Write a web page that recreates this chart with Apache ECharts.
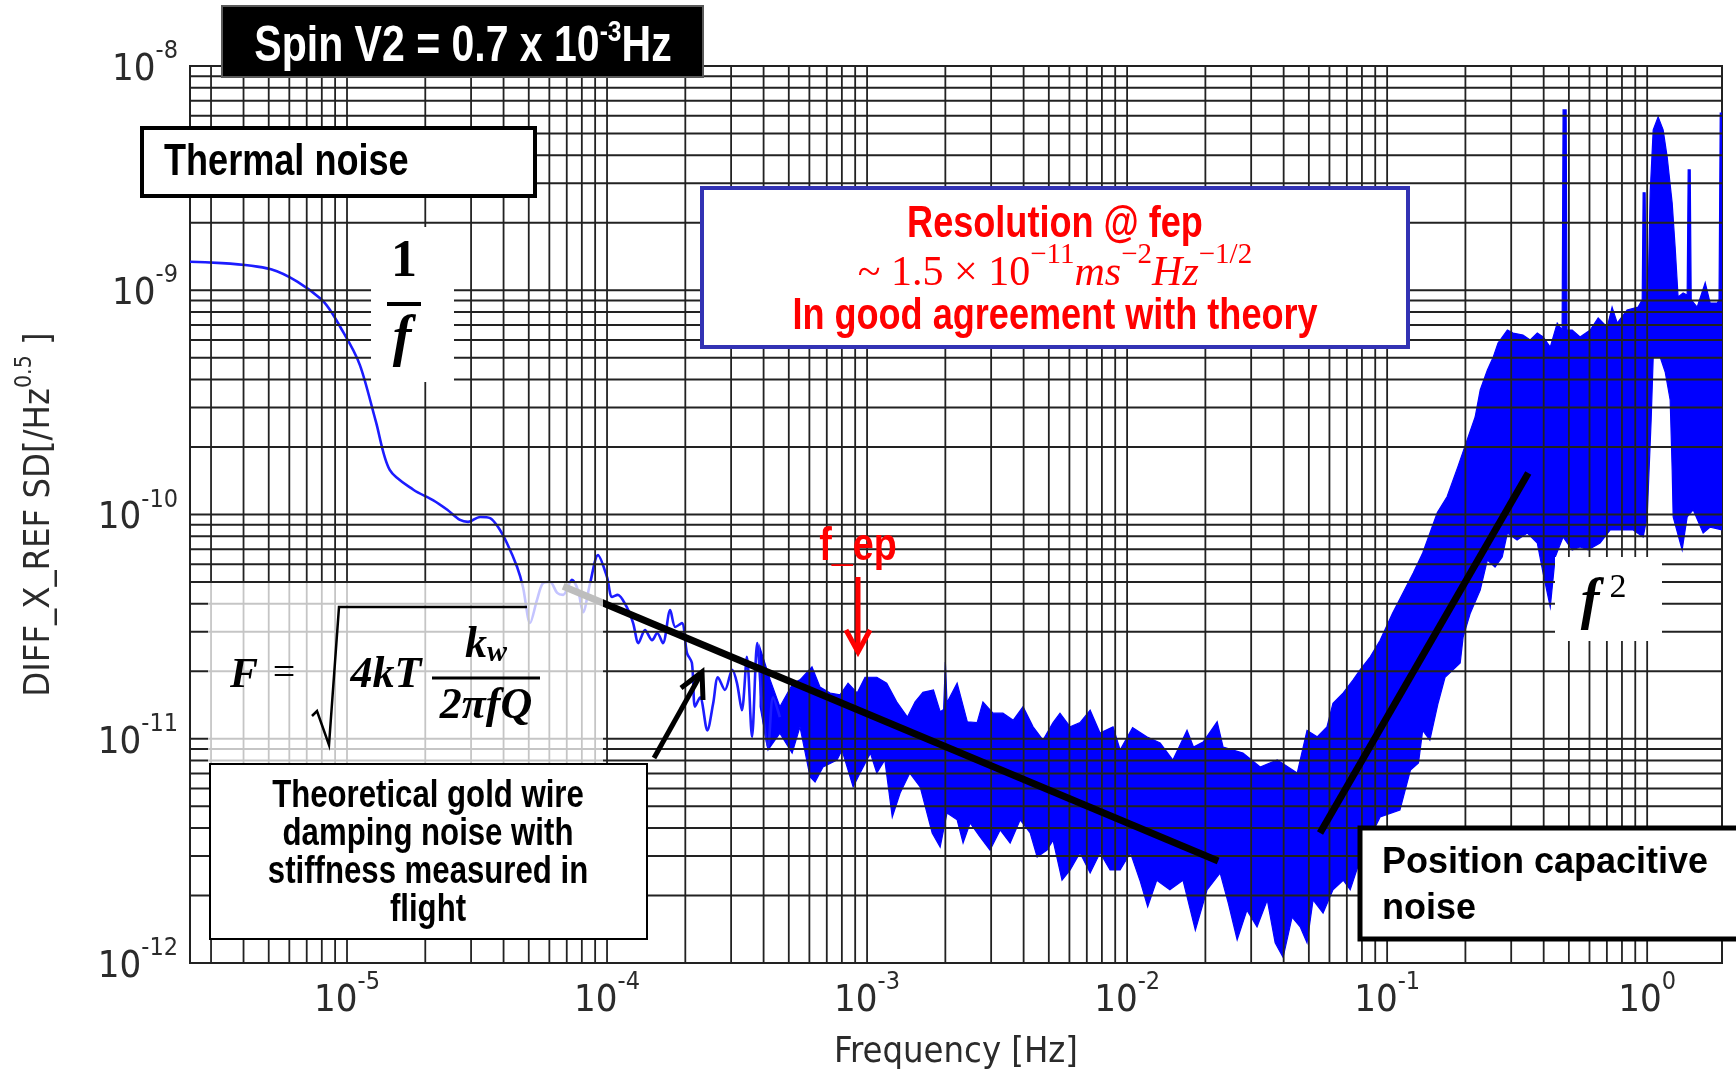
<!DOCTYPE html>
<html>
<head>
<meta charset="utf-8">
<script src="https://cdn.jsdelivr.net/npm/echarts@6/dist/echarts.min.js"></script>
<style>
  html, body { margin: 0; padding: 0; background: #ffffff; }
  #chart { width: 1736px; height: 1071px; }
</style>
</head>
<body>
<div id="chart"></div>
<script>
// ---- axis decades (tick labels are drawn as 10^n) ----
const freqDecades = [-5, -4, -3, -2, -1, 0];
const psdDecades = [-12, -11, -10, -9, -8];
const freqMin = 2.49e-6, freqMax = 1.94;
const psdMin = 1e-12, psdMax = 1e-8;

// ---- low-frequency part of the spectrum (thin trace) ----
const lowFreq = [2.49e-6, 5.10e-6, 7.94e-6, 9.66e-6, 1.12e-5, 1.29e-5, 1.46e-5, 1.80e-5, 2.14e-5, 2.43e-5,
  2.72e-5, 2.92e-5, 3.25e-5, 3.55e-5, 3.81e-5, 4.12e-5, 4.51e-5, 4.75e-5, 5.06e-5, 5.38e-5,
  5.68e-5, 6.04e-5, 6.43e-5, 6.78e-5, 7.33e-5, 7.73e-5, 8.09e-5, 8.61e-5, 9.23e-5, 1.00e-4,
  1.045e-4, 1.10e-4, 1.19e-4, 1.26e-4, 1.32e-4, 1.40e-4, 1.49e-4, 1.56e-4, 1.64e-4, 1.75e-4,
  1.83e-4, 1.94e-4, 2.03e-4, 2.12e-4, 2.18e-4, 2.28e-4, 2.43e-4, 2.56e-4, 2.67e-4, 2.84e-4,
  3.03e-4, 3.16e-4, 3.30e-4, 3.45e-4, 3.61e-4, 3.78e-4, 3.94e-4, 4.16e-4, 4.35e-4, 4.62e-4];
const lowPsd = [1.34e-9, 1.24e-9, 9.14e-10, 6.52e-10, 4.65e-10, 2.61e-10, 1.58e-10, 1.29e-10, 1.16e-10, 1.05e-10,
  9.46e-11, 9.27e-11, 9.75e-11, 9.64e-11, 8.79e-11, 7.46e-11, 5.83e-11, 4.75e-11, 3.28e-11, 4.16e-11,
  4.95e-11, 5.00e-11, 4.47e-11, 4.38e-11, 5.11e-11, 4.60e-11, 3.67e-11, 4.95e-11, 6.59e-11, 5.26e-11,
  4.29e-11, 4.38e-11, 3.87e-11, 3.28e-11, 2.67e-11, 3.05e-11, 2.75e-11, 2.96e-11, 2.67e-11, 3.75e-11,
  3.15e-11, 3.28e-11, 2.41e-11, 2.18e-11, 1.39e-11, 1.53e-11, 1.09e-11, 1.44e-11, 1.88e-11, 1.65e-11,
  2.03e-11, 1.77e-11, 1.34e-11, 2.32e-11, 1.02e-11, 2.67e-11, 1.44e-11, 9.18e-12, 1.53e-11, 1.25e-11];

// ---- dense part of the spectrum: upper envelope ----
const bandTopFreq = [3.87e-4, 4.24e-4, 4.62e-4, 5.19e-4, 5.52e-4, 6.14e-4, 6.59e-4, 7.21e-4, 7.87e-4, 8.45e-4,
  9.16e-4, 9.82e-4, 1.09e-3, 1.19e-3, 1.30e-3, 1.43e-3, 1.53e-3, 1.64e-3, 1.80e-3, 1.91e-3,
  1.97e-3, 2.00e-3, 2.03e-3, 2.22e-3, 2.43e-3, 2.65e-3, 2.79e-3, 3.05e-3, 3.33e-3, 3.65e-3,
  3.98e-3, 4.35e-3, 4.75e-3, 5.19e-3, 5.52e-3, 6.04e-3, 6.59e-3, 7.21e-3, 7.87e-3, 8.83e-3,
  9.40e-3, 1.05e-2, 1.19e-2, 1.34e-2, 1.50e-2, 1.70e-2, 1.80e-2, 1.96e-2, 2.22e-2, 2.34e-2,
  2.79e-2, 3.25e-2, 3.78e-2, 4.51e-2, 4.92e-2, 5.38e-2, 5.87e-2, 6.19e-2, 6.78e-2, 7.40e-2,
  7.87e-2, 8.61e-2, 9.40e-2, 0.105, 0.126, 0.137, 0.156, 0.170, 0.187, 0.205,
  0.218, 0.228, 0.243, 0.256, 0.267, 0.290, 0.305, 0.333, 0.355, 0.378,
  0.398, 0.424, 0.451, 0.471, 0.475, 0.488, 0.492, 0.515, 0.552, 0.604,
  0.648, 0.702, 0.733, 0.767, 0.837, 0.923, 0.957, 0.965, 0.982, 0.991,
  1.009, 1.027, 1.055, 1.102, 1.152, 1.194, 1.248, 1.281, 1.315, 1.375,
  1.425, 1.438, 1.464, 1.477, 1.557, 1.672, 1.747, 1.86, 1.89, 1.91, 1.94];
const bandTopPsd = [2.56e-11, 1.83e-11, 1.39e-11, 1.77e-11, 1.83e-11, 2.09e-11, 1.70e-11, 1.60e-11, 1.57e-11, 1.77e-11,
  1.60e-11, 1.88e-11, 1.88e-11, 1.77e-11, 1.46e-11, 1.25e-11, 1.46e-11, 1.61e-11, 1.65e-11, 1.32e-11,
  1.35e-11, 2.20e-11, 1.45e-11, 1.77e-11, 1.19e-11, 1.18e-11, 1.46e-11, 1.30e-11, 1.30e-11, 1.21e-11,
  1.39e-11, 1.13e-11, 9.86e-12, 1.18e-11, 1.30e-11, 1.13e-11, 1.18e-11, 1.34e-11, 1.06e-11, 1.13e-11,
  8.91e-12, 1.12e-11, 1.02e-11, 9.57e-12, 8.04e-12, 1.09e-11, 9.18e-12, 9.66e-12, 1.19e-11, 9.18e-12,
  8.63e-12, 7.48e-12, 8.04e-12, 7.03e-12, 1.09e-11, 1.02e-11, 1.13e-11, 1.44e-11, 1.60e-11, 1.83e-11,
  2.03e-11, 2.32e-11, 2.75e-11, 3.64e-11, 5.48e-11, 6.73e-11, 1.02e-10, 1.20e-10, 1.63e-10, 2.22e-10,
  2.72e-10, 3.59e-10, 4.41e-10, 5.04e-10, 5.82e-10, 6.65e-10, 6.44e-10, 6.31e-10, 6.00e-10, 6.44e-10,
  6.19e-10, 5.58e-10, 7.14e-10, 6.65e-10, 6.37e-9, 6.37e-9, 6.65e-10, 6.65e-10, 6.19e-10, 6.65e-10,
  7.52e-10, 6.85e-10, 8.41e-10, 7.14e-10, 8.17e-10, 8.41e-10, 9.06e-10, 2.72e-9, 2.72e-9, 9.53e-10,
  1.00e-9, 2.72e-9, 5.19e-9, 5.93e-9, 5.19e-9, 3.93e-9, 2.45e-9, 1.56e-9, 9.33e-10, 9.72e-10,
  9.53e-10, 3.44e-9, 3.44e-9, 9.06e-10, 8.41e-10, 1.08e-9, 8.77e-10, 8.77e-10, 9.06e-10, 6.17e-9, 6.17e-9];

// ---- dense part of the spectrum: lower envelope ----
const bandLowFreq = [3.88e-4, 4.16e-4, 4.62e-4, 5.15e-4, 5.52e-4, 6.04e-4, 6.31e-4, 6.77e-4, 7.66e-4, 8.01e-4,
  8.84e-4, 9.40e-4, 1.03e-3, 1.09e-3, 1.17e-3, 1.25e-3, 1.34e-3, 1.46e-3, 1.60e-3, 1.78e-3,
  1.91e-3, 2.03e-3, 2.22e-3, 2.34e-3, 2.49e-3, 2.72e-3, 2.97e-3, 3.25e-3, 3.55e-3, 3.88e-3,
  4.24e-3, 4.51e-3, 4.92e-3, 5.19e-3, 5.62e-3, 6.04e-3, 6.59e-3, 7.21e-3, 7.87e-3, 8.60e-3,
  9.40e-3, 1.03e-2, 1.12e-2, 1.20e-2, 1.30e-2, 1.46e-2, 1.64e-2, 1.83e-2, 2.03e-2, 2.28e-2,
  2.45e-2, 2.65e-2, 2.89e-2, 3.16e-2, 3.46e-2, 3.71e-2, 3.98e-2, 4.31e-2, 4.63e-2, 4.92e-2,
  5.19e-2, 5.67e-2, 6.19e-2, 6.78e-2, 7.21e-2, 7.87e-2, 8.61e-2, 9.40e-2, 0.112, 0.123,
  0.132, 0.137, 0.146, 0.157, 0.167, 0.191, 0.196, 0.209, 0.228, 0.243,
  0.260, 0.277, 0.290, 0.316, 0.346, 0.378, 0.398, 0.424, 0.443, 0.475,
  0.515, 0.552, 0.593, 0.659, 0.721, 0.787, 0.884, 0.965, 1.0, 1.036,
  1.055, 1.122, 1.173, 1.226, 1.248, 1.259, 1.363, 1.425, 1.503, 1.642, 1.747, 1.94];
const bandLowPsd = [1.39e-11, 8.91e-12, 1.06e-11, 8.63e-12, 1.13e-11, 6.75e-12, 6.41e-12, 7.48e-12, 8.04e-12, 8.91e-12,
  6.10e-12, 7.03e-12, 8.63e-12, 7.03e-12, 8.04e-12, 4.48e-12, 5.73e-12, 7.03e-12, 6.10e-12, 3.80e-12,
  3.29e-12, 4.67e-12, 4.35e-12, 3.43e-12, 4.21e-12, 3.65e-12, 3.19e-12, 3.92e-12, 3.43e-12, 4.35e-12,
  3.80e-12, 2.97e-12, 3.19e-12, 3.53e-12, 2.34e-12, 2.60e-12, 3.10e-12, 2.52e-12, 3.10e-12, 2.60e-12,
  2.60e-12, 3.10e-12, 2.34e-12, 1.78e-12, 2.34e-12, 2.12e-12, 2.34e-12, 1.40e-12, 2.12e-12, 2.52e-12,
  1.85e-12, 1.27e-12, 1.72e-12, 1.45e-12, 1.91e-12, 1.23e-12, 1.06e-12, 1.60e-12, 1.45e-12, 1.23e-12,
  1.91e-12, 1.67e-12, 2.12e-12, 2.34e-12, 2.12e-12, 2.88e-12, 3.65e-12, 4.48e-12, 4.81e-12, 7.26e-12,
  7.80e-12, 1.09e-11, 9.86e-12, 1.44e-11, 1.88e-11, 2.18e-11, 2.84e-11, 3.64e-11, 4.60e-11, 6.27e-11,
  5.83e-11, 6.46e-11, 8.26e-11, 7.69e-11, 8.26e-11, 7.46e-11, 5.48e-11, 3.87e-11, 6.46e-11, 7.94e-11,
  6.95e-11, 7.16e-11, 6.95e-11, 7.46e-11, 8.53e-11, 8.53e-11, 8.53e-11, 7.94e-11, 9.75e-11, 2.64e-10,
  5.04e-10, 5.04e-10, 4.32e-10, 3.24e-10, 1.58e-10, 9.75e-11, 6.95e-11, 9.75e-11, 1.05e-10, 8.26e-11, 8.79e-11, 8.53e-11];

// ---- model lines: gold-wire damping (f^-1/2) and capacitive readout (f^2) ----
const dampingFreq = [6.78e-5, 0.0224];
const dampingPsd = [4.79e-11, 2.85e-12];
const readoutFreq = [0.0552, 0.349];
const readoutPsd = [3.80e-12, 1.53e-10];

// ---- log grid: every 1..9 x 10^n inside the plotted range ----
const freqGrid = [];
for (let d = -6; d <= 0; d++) {
  for (let k = 1; k <= 9; k++) {
    const v = Number(k + 'e' + d);
    if (v > freqMin * 1.01 && v < freqMax) freqGrid.push(v);
  }
}
const psdGrid = [];
for (let d = -12; d <= -9; d++) {
  for (let k = 2; k <= 9; k++) psdGrid.push(Number(k + 'e' + d));
  if (d > -12) psdGrid.push(Number('1e' + d));
}

const zip = (a, b) => a.map((v, i) => [v, b[i]]);

const TICK_FONT = '"DejaVu Sans Condensed", "DejaVu Sans", sans-serif';
const SANS = '"Liberation Sans", Arial, sans-serif';
const SERIF = '"Liberation Serif", "DejaVu Serif", serif';
const INK = '#2b2b2b';
const GRID_INK = '#222';

function powLabel(v, decades) {
  const e = Math.round(Math.log10(v));
  if (decades.indexOf(e) < 0) return '';
  return '{b|10}{s|' + e + '}';
}
const tickRich = {
  b: { fontSize: 38, fontFamily: TICK_FONT, color: INK, lineHeight: 56, verticalAlign: 'bottom' },
  s: { fontSize: 25, fontFamily: TICK_FONT, color: INK, lineHeight: 25, verticalAlign: 'top', padding: [6, 0, 0, 0] }
};

// narrow bold caption (Arial-Narrow look via horizontal squeeze)
function narrow(x, y, text, size, color, align) {
  return {
    type: 'text', x: x, y: y, scaleX: 0.82, z: 120,
    style: { text: text, font: 'bold ' + size + 'px ' + SANS, fill: color, align: align || 'center', verticalAlign: 'middle' }
  };
}
function serifText(x, y, text, size, opts) {
  opts = opts || {};
  return {
    type: 'text', x: x, y: y, z: 120,
    style: { text: text, font: (opts.italic ? 'italic ' : '') + (opts.bold === false ? '' : 'bold ') + size + 'px ' + SERIF,
      fill: opts.color || '#000', align: 'center', verticalAlign: 'middle' }
  };
}
function box(x, y, w, h, stroke, lw, fill, extra) {
  return Object.assign({
    type: 'rect', z: 110, shape: { x: x, y: y, width: w, height: h },
    style: { fill: fill || '#fff', stroke: stroke, lineWidth: lw }
  }, extra || {});
}
function poly(points, color, lw) {
  return { type: 'polyline', z: 120, shape: { points: points }, style: { stroke: color, lineWidth: lw, fill: null, lineJoin: 'miter' } };
}

const chart = echarts.init(document.getElementById('chart'), null, { renderer: 'canvas' });

const option = {
  backgroundColor: '#ffffff',
  animation: false,
  grid: { left: 190, right: 14, top: 66, bottom: 108, outerBoundsMode: 'none', containLabel: false,
    show: true, borderColor: '#222', borderWidth: 2, backgroundColor: 'transparent' },
  xAxis: {
    type: 'log', logBase: 10, min: freqMin, max: freqMax,
    name: 'Frequency [Hz]', nameLocation: 'middle', nameGap: 72,
    nameTextStyle: { fontSize: 36, fontFamily: TICK_FONT, color: INK },
    axisLine: { show: true, lineStyle: { color: '#222', width: 2 } },
    axisTick: { show: false },
    splitLine: { show: false },
    axisLabel: { margin: 1, showMinLabel: false, showMaxLabel: false,
      formatter: v => powLabel(v, freqDecades), rich: tickRich }
  },
  yAxis: {
    type: 'log', logBase: 10, min: psdMin, max: psdMax,
    name: '{n|DIFF_X_REF SD[/Hz}{s|0.5}{n| ]}', nameLocation: 'middle', nameGap: 132, nameRotate: 90,
    nameTextStyle: { rich: {
      n: { fontSize: 36, fontFamily: TICK_FONT, color: INK, lineHeight: 44, verticalAlign: 'bottom' },
      s: { fontSize: 23, fontFamily: TICK_FONT, color: INK, lineHeight: 23, verticalAlign: 'top' }
    } },
    axisLine: { show: true, lineStyle: { color: '#222', width: 2 } },
    axisTick: { show: false },
    splitLine: { show: false },
    axisLabel: { margin: 12, padding: [0, 0, 10, 0], formatter: v => powLabel(v, psdDecades), rich: tickRich }
  },
  series: [
    {
      name: 'spectrum (low f)', type: 'line', z: 2,
      data: zip(lowFreq, lowPsd), symbol: 'none', smooth: 0.3,
      lineStyle: { color: '#1c1cff', width: 2.6 }
    },
    {
      name: 'spectrum (dense)', type: 'custom', z: 2, clip: true,
      coordinateSystem: 'cartesian2d',
      data: [[1e-3, 1e-11]],
      encode: { x: 0, y: 1 },
      renderItem: function (params, api) {
        const pts = [];
        for (let i = 0; i < bandTopFreq.length; i++) pts.push(api.coord([bandTopFreq[i], bandTopPsd[i]]));
        for (let i = bandLowFreq.length - 1; i >= 0; i--) pts.push(api.coord([bandLowFreq[i], bandLowPsd[i]]));
        return { type: 'polygon', shape: { points: pts }, style: { fill: '#0000ff', stroke: '#0000ff', lineWidth: 1.2 } };
      }
    },
    {
      // vertical grid lines, drawn over the spectrum
      name: 'freq grid', type: 'custom', z: 3, silent: true, clip: true,
      coordinateSystem: 'cartesian2d',
      data: freqGrid.map(v => [v, 1e-10]),
      encode: { x: 0, y: 1 },
      renderItem: function (params, api) {
        const f = api.value(0);
        const a = api.coord([f, psdMin]);
        const b = api.coord([f, psdMax]);
        return { type: 'line', shape: { x1: a[0], y1: a[1], x2: b[0], y2: b[1] }, style: { stroke: GRID_INK, lineWidth: 1.8 } };
      }
    },
    {
      // horizontal grid lines
      name: 'psd grid', type: 'custom', z: 3, silent: true, clip: true,
      coordinateSystem: 'cartesian2d',
      data: psdGrid.map(v => [1e-3, v]),
      encode: { x: 0, y: 1 },
      renderItem: function (params, api) {
        const p = api.value(1);
        const a = api.coord([freqMin, p]);
        const b = api.coord([freqMax, p]);
        return { type: 'line', shape: { x1: a[0], y1: a[1], x2: b[0], y2: b[1] }, style: { stroke: GRID_INK, lineWidth: 1.8 } };
      }
    },
    {
      name: 'wire damping', type: 'line', z: 4, data: zip(dampingFreq, dampingPsd), symbol: 'none',
      lineStyle: { color: '#000', width: 7, cap: 'butt' }
    },
    {
      name: 'capacitive readout', type: 'line', z: 4, data: zip(readoutFreq, readoutPsd), symbol: 'none',
      lineStyle: { color: '#000', width: 7, cap: 'butt' }
    }
  ],
  graphic: { elements: [
    // title tag
    box(222, 6, 481, 71, '#5a5a5a', 2, '#000', { shadowBlur: 6, shadowColor: 'rgba(0,0,0,0.45)', shadowOffsetX: 2, shadowOffsetY: 2 }),
    { type: 'text', x: 463, y: 42, scaleX: 0.82, z: 120,
      style: { text: '{a|Spin V2 = 0.7 x 10}{b|-3}{a|Hz}', align: 'center', verticalAlign: 'middle',
        rich: { a: { font: 'bold 50px ' + SANS, fill: '#fff', lineHeight: 60, verticalAlign: 'bottom' },
                b: { font: 'bold 30px ' + SANS, fill: '#fff', lineHeight: 30, verticalAlign: 'top', padding: [6, 0, 0, 0] } } } },

    // thermal noise tag
    box(142, 128, 393, 68, '#000', 4, '#fff'),
    narrow(164, 163, 'Thermal noise', 44, '#000', 'left'),

    // 1/f
    box(371, 227, 83, 155, null, 0, '#fff'),
    serifText(404, 263, '1', 52),
    poly([[387, 304], [421, 304]], '#000', 4),
    serifText(402, 341, 'f', 56, { italic: true }),

    // resolution box
    box(702, 188, 706, 159, '#3232b4', 4, '#fff'),
    narrow(1055, 225, 'Resolution @ fep', 44, '#ff0000'),
    { type: 'text', x: 1055, y: 268, z: 120,
      style: { text: '{n|~ 1.5 × 10}{s|−11}{i|ms}{s|−2}{i|Hz}{s|−1/2}', align: 'center', verticalAlign: 'middle',
        rich: { n: { font: '42px ' + SERIF, fill: '#ff0000', lineHeight: 54, verticalAlign: 'bottom' },
                i: { font: 'italic 42px ' + SERIF, fill: '#ff0000', lineHeight: 54, verticalAlign: 'bottom' },
                s: { font: '29px ' + SERIF, fill: '#ff0000', lineHeight: 29, verticalAlign: 'top' } } } },
    narrow(1055, 317, 'In good agreement with theory', 44, '#ff0000'),

    // f_ep marker
    narrow(858, 547, 'f_ep', 46, '#ff0000'),
    poly([[858, 577], [858, 650]], '#ff0000', 5),
    poly([[846, 630], [858, 652], [870, 630]], '#ff0000', 5),

    // formula panel (translucent)
    box(208, 583, 395, 181, null, 0, 'rgba(255,255,255,0.74)', { z: 105 }),
    serifText(244, 676, 'F', 42, { italic: true }),
    serifText(284, 674, '=', 40, { bold: false }),
    poly([[312, 716], [317, 711], [329, 745], [339, 607], [527, 607]], '#000', 2.5),
    serifText(386, 676, '4kT', 44, { italic: true }),
    { type: 'text', x: 486, y: 646, z: 120,
      style: { text: '{k|k}{w|w}', align: 'center', verticalAlign: 'middle',
        rich: { k: { font: 'italic bold 44px ' + SERIF, fill: '#000', lineHeight: 44, verticalAlign: 'top' },
                w: { font: 'italic bold 30px ' + SERIF, fill: '#000', lineHeight: 30, verticalAlign: 'bottom' } } } },
    poly([[432, 678], [540, 678]], '#000', 3),
    serifText(486, 707, '2πfQ', 44, { italic: true }),

    // gold-wire caption and pointer
    box(210, 764, 437, 175, '#000', 2, '#fff'),
    narrow(428, 797, 'Theoretical gold wire', 38, '#000'),
    narrow(428, 835, 'damping noise with', 38, '#000'),
    narrow(428, 873, 'stiffness measured in', 38, '#000'),
    narrow(428, 911, 'flight', 38, '#000'),
    poly([[654, 758], [701, 674]], '#000', 5),
    poly([[681, 688], [702, 672], [703, 700]], '#000', 5),

    // f^2
    box(1555, 557, 107, 84, null, 0, '#fff'),
    serifText(1590, 604, 'f', 56, { italic: true }),
    serifText(1618, 588, '2', 34, { bold: false }),

    // capacitive noise caption
    box(1360, 828, 400, 111, '#000', 5, '#fff'),
    { type: 'text', x: 1382, y: 863, z: 120, style: { text: 'Position capacitive', font: 'bold 36px ' + SANS, fill: '#000', align: 'left', verticalAlign: 'middle' } },
    { type: 'text', x: 1382, y: 909, z: 120, style: { text: 'noise', font: 'bold 36px ' + SANS, fill: '#000', align: 'left', verticalAlign: 'middle' } }
  ] }
};

chart.setOption(option);
</script>
</body>
</html>
